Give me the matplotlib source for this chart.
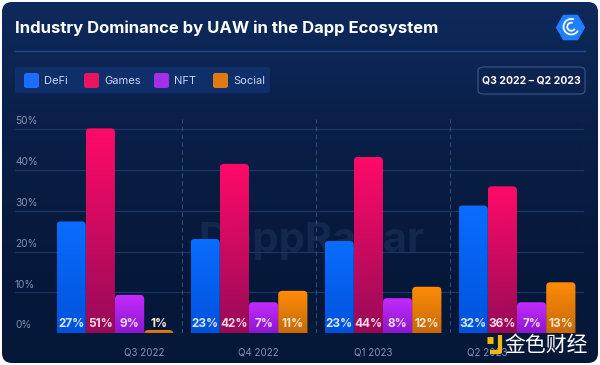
import numpy as np
import matplotlib
matplotlib.use("Agg")
import matplotlib.pyplot as plt
from matplotlib.colors import LinearSegmentedColormap
from matplotlib.patches import FancyBboxPatch, RegularPolygon, Arc
import matplotlib.transforms as mtransforms

quarters = ["Q3 2022", "Q4 2022", "Q1 2023", "Q2 2023"]
industries = ["DeFi", "Games", "NFT", "Social"]
# bar heights, labels as printed on the bars
defi = [27.4, 23.1, 22.6, 31.3]
games = [50.2, 41.5, 43.2, 36.0]
nft = [9.4, 7.6, 8.6, 7.6]
social = [0.8, 10.4, 11.4, 12.5]
defi_lbl = ["27%", "23%", "23%", "32%"]
games_lbl = ["51%", "42%", "44%", "36%"]
nft_lbl = ["9%", "7%", "8%", "7%"]
social_lbl = ["1%", "11%", "12%", "13%"]
yticks = [0, 10, 20, 30, 40, 50]

series = [defi, games, nft, social]
labels = [defi_lbl, games_lbl, nft_lbl, social_lbl]
grads = [("#0a6dff", "#0052dc"), ("#ff0a68", "#980a58"),
         ("#c62cff", "#8c16cf"), ("#ff8c05", "#c86a0c")]
legend_cols = ["#1a6dff", "#e8155f", "#a52ee8", "#e07a10"]
lbl_cols = ["#d8e8ff", "#ffd8e6", "#f2d8ff", "#ffe8cc"]

W, H = 600, 365

plt.rcParams["font.family"] = ["Inter", "DejaVu Sans"]
fig = plt.figure(figsize=(6, 3.65), dpi=100)
fig.patch.set_facecolor("white")


def fx(x):
    return x / W


def fy(y):
    return 1 - y / H


# card background with a soft vertical gradient
bax = fig.add_axes([0, 0, 1, 1], zorder=-10)
bax.set_xlim(0, W)
bax.set_ylim(H, 0)
bax.axis("off")
card = FancyBboxPatch((2, 2), 596, 361, boxstyle="round,pad=0,rounding_size=10",
                      facecolor="none", edgecolor="none")
bax.add_patch(card)
bg = LinearSegmentedColormap.from_list("bg", ["#0e2a5c", "#0a2049", "#07193c", "#061838"])
bim = bax.imshow(np.linspace(0, 1, 200).reshape(-1, 1), extent=[0, W, H, 0],
                 aspect="auto", cmap=bg)
bim.set_clip_path(card)

fig.text(fx(15), fy(28), "Industry Dominance by UAW in the Dapp Ecosystem",
         color="white", fontsize=12, fontweight="bold", va="center", ha="left")
fig.add_artist(plt.Line2D([fx(15), fx(585)], [fy(51), fy(51)],
                          color="#1f4a9a", lw=1, transform=fig.transFigure))

# logo
lax = fig.add_axes([fx(555), fy(43), fx(31), 31 / H])
lax.set_xlim(-1, 1)
lax.set_ylim(-1, 1)
lax.set_aspect("equal")
lax.axis("off")
lax.add_patch(RegularPolygon((0, 0), 6, radius=0.95, orientation=np.pi / 6,
                             facecolor="#1f7fff", edgecolor="none"))
for rr in [0.5, 0.26]:
    lax.add_patch(Arc((0.05, 0.05), 2 * rr, 2 * rr, theta1=70, theta2=330,
                      color="white", lw=1.3))

# legend box
fig.patches.append(FancyBboxPatch((fx(15), fy(93)), fx(255), 26 / H,
                                  boxstyle="round,pad=0,rounding_size=0.006",
                                  transform=fig.transFigure, facecolor="#0f2f6a",
                                  edgecolor="none"))
lx = [24, 84, 154, 213]
for x, name, c in zip(lx, industries, legend_cols):
    fig.patches.append(FancyBboxPatch((fx(x), fy(88)), fx(15), 15 / H,
                                      boxstyle="round,pad=0,rounding_size=0.005",
                                      transform=fig.transFigure, facecolor=c,
                                      edgecolor="none"))
    fig.text(fx(x + 20), fy(80.5), name, color="#c9d6ee", fontsize=8,
             va="center", ha="left")

# date box
fig.patches.append(FancyBboxPatch((fx(478), fy(94)), fx(107), 27 / H,
                                  boxstyle="round,pad=0,rounding_size=0.01",
                                  transform=fig.transFigure, facecolor="none",
                                  edgecolor="#3a5688", lw=0.8))
fig.text(fx(531.5), fy(80.5), "Q3 2022 – Q2 2023", color="white", fontsize=7.5,
         fontweight="bold", va="center", ha="center")

# plot area
ax = fig.add_axes([fx(15), fy(333.3), fx(569), (333.3 - 119) / H])
ax.set_facecolor("none")
for s in ax.spines.values():
    s.set_visible(False)

x = np.arange(len(quarters))
bw = 0.218
offs = np.array([-1.5, -0.5, 0.5, 1.5]) * bw
xlim = (-0.746, 3.5)
ylim = (0, 52.5)

# faint watermark
ax.text(0.52, 0.43, "DappRadar", transform=ax.transAxes, color="#12284e",
        fontsize=30, fontweight="bold", ha="center", va="center", zorder=0)

trans = mtransforms.blended_transform_factory(ax.transAxes, ax.transData)
for yt in yticks:
    ax.axhline(yt, color="#1d3866", lw=0.8, zorder=1)
    ax.text(0.0, yt + 0.7, f"{yt}%", transform=trans, color="#8193b5",
            fontsize=7.3, ha="left", va="bottom")
for sx in [0.5, 1.5, 2.5, 3.5]:
    ax.axvline(sx, color="#2f4a78", lw=0.8, ls=(0, (4, 3)), zorder=1)

# px per data unit, for rounded tops
ppx = 569 / (xlim[1] - xlim[0])
ppy = 214.3 / (ylim[1] - ylim[0])
r_px = 4
for i, (vals, lbls, (ctop, cbot), lc) in enumerate(zip(series, labels, grads, lbl_cols)):
    cmap = LinearSegmentedColormap.from_list(f"g{i}", [cbot, ctop])
    for j, v in enumerate(vals):
        x0 = x[j] + offs[i] - bw / 2
        r = r_px / ppx
        patch = FancyBboxPatch((x0, -r_px / ppy), bw, v + r_px / ppy,
                               boxstyle=f"round,pad=0,rounding_size={r}",
                               mutation_aspect=ppx / ppy,
                               facecolor="none", edgecolor="none")
        ax.add_patch(patch)
        grad = np.linspace(0, 1, 100).reshape(-1, 1)
        im = ax.imshow(grad, extent=[x0, x0 + bw, 0, v], origin="lower",
                       aspect="auto", cmap=cmap, zorder=2)
        im.set_clip_path(patch)
        ax.text(x[j] + offs[i], 2.2, lbls[j], color=lc, fontsize=8.5,
                fontweight="bold", ha="center", va="center", zorder=3)

ax.set_xlim(*xlim)
ax.set_ylim(*ylim)
ax.set_yticks([])
ax.set_xticks([0.22, 1.07, 1.93, 2.78])
ax.set_xticklabels(quarters, color="#8193b5", fontsize=7)
ax.tick_params(axis="x", length=0, pad=10)

# corner watermark
fig.text(fx(588), fy(345), "金色财经", color="white", fontsize=15,
         family=["Noto Sans CJK SC", "DejaVu Sans"], ha="right", va="center",
         zorder=5)
fig.add_artist(plt.Line2D([fx(490), fx(500), fx(500)], [fy(352), fy(352), fy(335)],
                          color="#f0b90b", lw=3, transform=fig.transFigure,
                          solid_capstyle="butt", zorder=5))
fig.add_artist(plt.Line2D([fx(487), fx(493)], [fy(340), fy(340)],
                          color="#f0b90b", lw=5, transform=fig.transFigure,
                          solid_capstyle="butt", zorder=5))

fig.savefig("out.png", dpi=100, facecolor=fig.get_facecolor())
